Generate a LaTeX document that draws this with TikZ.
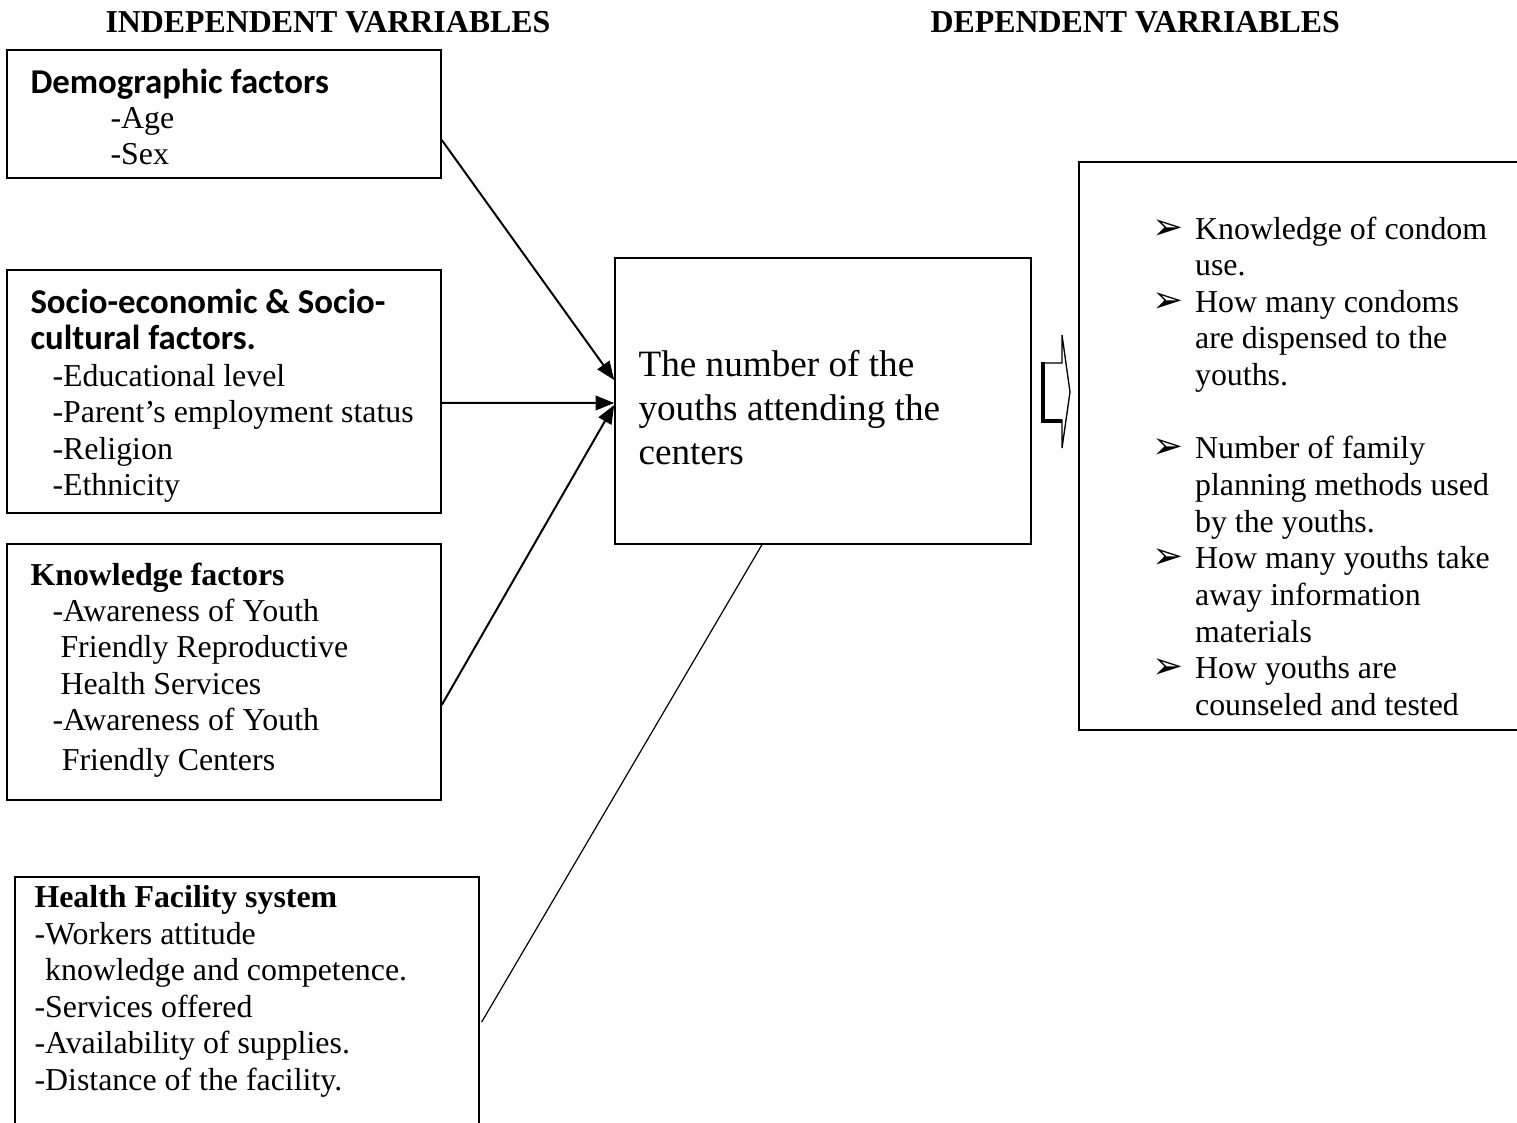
\documentclass[tikz,border=0pt]{standalone}
\usepackage{fontspec}
\setmainfont{Liberation Serif}
\newfontfamily\calib{Carlito}
\newfontfamily\djv{DejaVu Sans}
\usetikzlibrary{arrows.meta,fit}
\begin{document}
\begin{tikzpicture}[x=0.3765pt,y=-0.3765pt,
  box/.style={draw,line width=0.6pt,inner sep=0pt},
  txt/.style={inner sep=0pt,anchor=base west,font=\fontsize{12}{13.8}\selectfont},
  ttl/.style={inner sep=0pt,anchor=base west,font=\fontsize{13.1}{13.6}\selectfont\calib\bfseries},
  big/.style={inner sep=0pt,anchor=base west,font=\fontsize{14}{16.57}\selectfont},
  conn/.style={line width=0.75pt,-{Triangle[length=7pt,width=5.5pt]}},
  plain/.style={line width=0.45pt},
  blk/.style={line width=0.5pt,fill=white},
]
\useasboundingbox (0,0) rectangle (1517,1122);

% headings
\node[txt,font=\fontsize{12}{13.8}\selectfont\bfseries] (hind) at (105,32) {INDEPENDENT VARRIABLES};
\node[txt,font=\fontsize{12}{13.8}\selectfont\bfseries] (hdep) at (930,32) {DEPENDENT VARRIABLES};

% boxes
\node[box,fit={(7,50) (441,178)}] (demo) {};
\node[box,fit={(7,270) (441,513)}] (socio) {};
\node[box,fit={(7,544) (441,800)}] (know) {};
\node[box,fit={(15,877) (479,1140)}] (health) {};
\node[box,fit={(615,258) (1031,544)}] (center) {};
\node[box,fit={(1079,162) (1540,730)}] (dep) {};

% demographic
\node[ttl] (demot) at (30,93) {Demographic factors};
\node[txt] (demoi) at (110,128) {\begin{tabular}[t]{@{}l@{}}-Age\\-Sex\end{tabular}};

% socio
\node[ttl] (sociot) at (30,313) {\begin{tabular}[t]{@{}l@{}}Socio-economic \& Socio-\\cultural factors.\end{tabular}};
\node[txt] (socioi) at (52,386) {\begin{tabular}[t]{@{}l@{}}-Educational level\\-Parent’s employment status\\-Religion\\-Ethnicity\end{tabular}};

% knowledge
\node[txt,font=\fontsize{12}{13.8}\selectfont\bfseries] (knowt) at (30,585) {Knowledge factors};
\node[txt] (knowi) at (52,621) {\begin{tabular}[t]{@{}l@{}}-Awareness of Youth\\\hspace*{3pt}Friendly Reproductive\\\hspace*{3pt}Health Services\\-Awareness of Youth\\[1pt]\hspace*{3.5pt}Friendly Centers\end{tabular}};

% health
\node[txt,font=\fontsize{12}{13.8}\selectfont\bfseries] (healtht) at (34,907) {Health Facility system};
\node[txt] (healthi) at (34,944) {\begin{tabular}[t]{@{}l@{}}-Workers attitude\\\hspace*{4pt}knowledge and competence.\\-Services offered\\-Availability of supplies.\\-Distance of the facility.\end{tabular}};

% center
\node[big] (centert) at (638,376) {\begin{tabular}[t]{@{}l@{}}The number of the\\youths attending the\\centers\end{tabular}};

% dependent list
\newcommand{\bul}{{\djv\fontsize{14}{12}\selectfont ➢}}
\node[txt] (depi) at (1152,239) {\begin{tabular}[t]{@{}l@{\hspace{4.3pt}}l@{}}
\bul & Knowledge of condom\\
 & use.\\
\bul & How many condoms\\
 & are dispensed to the\\
 & youths.\\
 & \\
\bul & Number of family\\
 & planning methods used\\
 & by the youths.\\
\bul & How many youths take\\
 & away information\\
 & materials\\
\bul & How youths are\\
 & counseled and tested
\end{tabular}};

% connectors
\draw[conn] ([yshift=-9.8pt]demo.east) -- ([yshift=7.9pt]center.west);
\draw[conn] ([yshift=-4.3pt]socio.east) -- ([yshift=-0.75pt]center.west);
\draw[conn] ([yshift=-12.4pt]know.east) -- ([yshift=-1.5pt]center.west);
\draw[plain] ([xshift=-23pt]center.south) -- ([yshift=-5.1pt,xshift=0.7pt]health.east);

% block arrow
\draw[blk] (1042,363) -- (1062,363) -- (1062,335) -- (1070,392) -- (1062,448) -- (1062,420) -- (1042,420) -- cycle;
\draw[line width=1.6pt] (1043,362) -- (1043,421) -- (1062,421);
\end{tikzpicture}
\end{document}
